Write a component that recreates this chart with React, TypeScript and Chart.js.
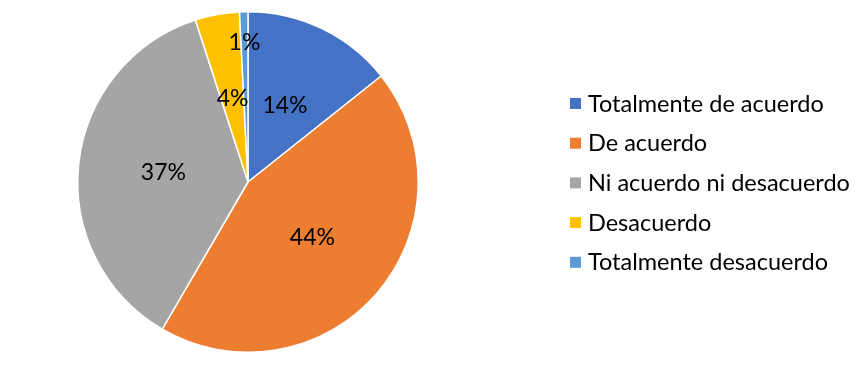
import React, { useEffect, useRef } from "react";
import { Chart, registerables } from "chart.js";

Chart.register(...registerables);

const categories = [
  "Totalmente de acuerdo",
  "De acuerdo",
  "Ni acuerdo ni desacuerdo",
  "Desacuerdo",
  "Totalmente desacuerdo",
];
const values = [14.3, 44.1, 36.6, 4.2, 0.8];
const colors = ["#4472C4", "#ED7D31", "#A5A5A5", "#FFC000", "#5B9BD5"];

const FONT = "Lato, 'Open Sans', sans-serif";

const labelsPlugin = {
  id: "pieLabels",
  afterDatasetsDraw(chart: any) {
    const ctx = chart.ctx;
    const meta = chart.getDatasetMeta(0);
    const data = chart.data.datasets[0].data as number[];
    const total = data.reduce((a, b) => a + b, 0);
    ctx.save();
    ctx.font = `23px ${FONT}`;
    ctx.fillStyle = "#000000";
    ctx.textAlign = "center";
    ctx.textBaseline = "middle";
    meta.data.forEach((arc: any, i: number) => {
      const { x, y, startAngle, endAngle, outerRadius } = arc.getProps(
        ["x", "y", "startAngle", "endAngle", "outerRadius"],
        true
      );
      const mid = (startAngle + endAngle) / 2;
      const pct = (data[i] / total) * 100;
      const f = pct < 2 ? 0.82 : 0.5;
      const r = outerRadius * f;
      ctx.fillText(
        `${Math.round(pct)}%`,
        x + Math.cos(mid) * r,
        y + Math.sin(mid) * r
      );
    });
    ctx.restore();
  },
};

const legendPlugin = {
  id: "customLegend",
  afterDraw(chart: any) {
    const ctx = chart.ctx;
    const labels = chart.data.labels as string[];
    const bg = chart.data.datasets[0].backgroundColor as string[];
    ctx.save();
    ctx.font = `23.5px ${FONT}`;
    ctx.textAlign = "left";
    ctx.textBaseline = "middle";
    const x0 = 570;
    const y0 = 103;
    const step = 39.7;
    labels.forEach((lab, i) => {
      const y = y0 + i * step;
      ctx.fillStyle = bg[i];
      ctx.fillRect(x0, y - 5, 11, 11);
      ctx.fillStyle = "#000000";
      ctx.fillText(lab, x0 + 18, y + 1);
    });
    ctx.restore();
  },
};

export default function App() {
  const ref = useRef<HTMLCanvasElement | null>(null);
  useEffect(() => {
    document.body.style.margin = "0";
    const chart = new Chart(ref.current as HTMLCanvasElement, {
      type: "pie",
      data: {
        labels: categories,
        datasets: [
          {
            data: values,
            backgroundColor: colors,
            borderColor: "#FFFFFF",
            borderWidth: 1.5,
          },
        ],
      },
      options: {
        animation: false,
        responsive: false,
        maintainAspectRatio: false,
        layout: { padding: { top: 11, bottom: 13, left: 77, right: 445 } },
        plugins: {
          legend: { display: false },
          tooltip: { enabled: false },
        },
      },
      plugins: [labelsPlugin, legendPlugin],
    });
    return () => chart.destroy();
  }, []);
  return (
    <div style={{ position: "absolute", left: 0, top: 0, width: 864, height: 366, background: "#fff" }}>
      <canvas ref={ref} width={864} height={366} style={{ width: 864, height: 366 }} />
    </div>
  );
}
